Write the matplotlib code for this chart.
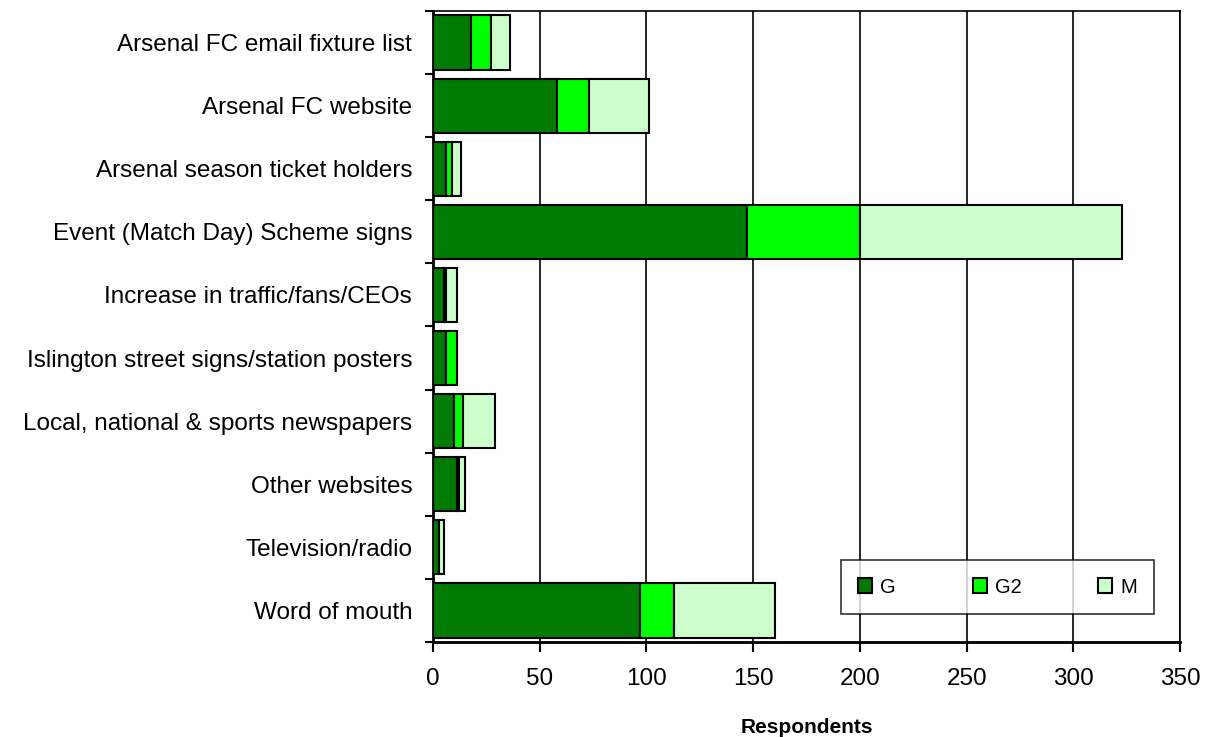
import numpy as np
import matplotlib
matplotlib.use('Agg')
import matplotlib.pyplot as plt

plt.rcParams['font.family'] = ['Liberation Sans', 'DejaVu Sans']

categories = [
    'Arsenal FC email fixture list',
    'Arsenal FC website',
    'Arsenal season ticket holders',
    'Event (Match Day) Scheme signs',
    'Increase in traffic/fans/CEOs',
    'Islington street signs/station posters',
    'Local, national & sports newspapers',
    'Other websites',
    'Television/radio',
    'Word of mouth',
]
g_vals = [18, 58, 6, 147, 5, 6, 10, 11, 3, 97]
g2_vals = [9, 15, 3, 53, 1, 5, 4, 1, 0, 16]
m_vals = [9, 28, 4, 123, 5, 0, 15, 3, 2, 47]

series = [('G', g_vals, '#007a00'), ('G2', g2_vals, '#00ff00'), ('M', m_vals, '#ccffcc')]

fig = plt.figure(figsize=(12.15, 7.37), dpi=100)
ax = fig.add_axes([0.3564, 0.129, 0.6148, 0.856])

y = np.arange(len(categories))
left = np.zeros(len(categories))
for name, vals, color in series:
    ax.barh(y, vals, left=left, height=0.86, color=color, edgecolor='black',
            linewidth=1.5, label=name, zorder=3)
    left += np.array(vals)

ax.set_ylim(len(categories) - 0.5, -0.5)
ax.set_xlim(0, 350)
ax.set_xticks(np.arange(0, 351, 50))
ax.set_yticks(y)
ax.set_yticklabels(categories, fontsize=17.5)
ax.tick_params(axis='y', length=0, pad=15)
ax.set_yticks(np.arange(-0.5, len(categories), 1), minor=True)
ax.tick_params(axis='y', which='minor', length=6, width=1.5, direction='out')
ax.tick_params(axis='x', labelsize=17.5, length=7, width=1.5, direction='out', pad=12)
ax.grid(axis='x', color='black', linewidth=1.2, zorder=0)
for s in ax.spines.values():
    s.set_linewidth(1.2)
ax.spines['left'].set_linewidth(2)
ax.spines['bottom'].set_linewidth(2)

ax.set_xlabel('Respondents', fontsize=15, fontweight='bold', labelpad=20)

leg = ax.legend(loc='center', bbox_to_anchor=(0.821, 0.2035), bbox_transform=fig.transFigure,
                ncol=3, frameon=True, fancybox=False, edgecolor='black', fontsize=14.5,
                handlelength=0.7, handleheight=0.7, columnspacing=3.8, borderpad=0.85,
                handletextpad=0.4)
leg.get_frame().set_linewidth(1.2)

fig.savefig('out.png', dpi=100, facecolor='white')
